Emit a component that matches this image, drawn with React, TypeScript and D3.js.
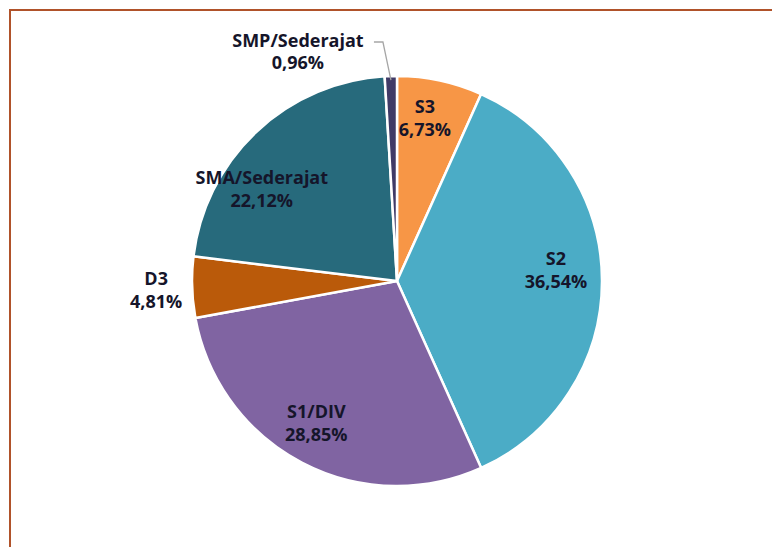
import * as d3 from 'd3';

// Education level share (%) — clockwise from 12 o'clock
const categories = ['S3', 'S2', 'S1/DIV', 'D3', 'SMA/Sederajat', 'SMP/Sederajat'];
const shares = [6.73, 36.54, 28.85, 4.81, 22.12, 0.96];
const labels = ['6,73%', '36,54%', '28,85%', '4,81%', '22,12%', '0,96%'];
const colors = ['#F79646', '#4BACC6', '#8064A2', '#BA5A0A', '#276A7C', '#403A66'];

const W = 772;
const H = 547;
const cx = 397;
const cy = 281;
const R = 205;

// label placement: radius factor and angle nudge (deg) off each slice's mid angle
const labelLayout: Record<string, { k: number; da: number }> = {
  S3: { k: 0.8, da: -2.3 },
  S2: { k: 0.777, da: -3.6 },
  'S1/DIV': { k: 0.8, da: 1.8 },
  D3: { k: 1.176, da: -0.7 },
  'SMA/Sederajat': { k: 0.795, da: -12.8 },
};

const polar = (angle: number, r: number): [number, number] => [
  Math.sin(angle) * r,
  -Math.cos(angle) * r,
];

export default function App() {
  const pie = d3
    .pie<number>()
    .sort(null)
    .value((d) => d);
  const arcs = pie(shares);
  const arc = d3.arc<d3.PieArcDatum<number>>().innerRadius(0).outerRadius(R);

  const font = '"Open Sans", Lato, sans-serif';
  const fontSize = 18;
  const textColor = '#15152a';

  return (
    <div style={{ position: 'fixed', left: 0, top: 0, width: W, height: H, background: '#fff' }}>
      <svg width={W} height={H} style={{ display: 'block' }}>
        <rect x={10} y={10} width={W + 20} height={H + 20} fill="none" stroke="#B0522A" strokeWidth={2} />
        <g transform={`translate(${cx},${cy})`}>
          {arcs.map((a, i) => (
            <path key={categories[i]} d={arc(a) || ''} fill={colors[i]} stroke="#fff" strokeWidth={2.5} strokeLinejoin="round" />
          ))}
          {arcs.map((a, i) => {
            const name = categories[i];
            const mid = (a.startAngle + a.endAngle) / 2;
            if (name === 'SMP/Sederajat') {
              const [sx, sy] = polar(mid, R - 4);
              const ly = 42 - cy;
              const ex = sx - 8;
              const tx = ex - 9;
              return (
                <g key={name} fontFamily={font} fontWeight={700} fontSize={fontSize} fill={textColor} textAnchor="middle">
                  <polyline points={`${sx},${sy} ${ex},${ly} ${tx},${ly}`} fill="none" stroke="#A6A6A6" strokeWidth={1.3} />
                  <text x={tx - 76} y={ly + 5}>{name}</text>
                  <text x={tx - 76} y={ly + 27}>{labels[i]}</text>
                </g>
              );
            }
            const lay = labelLayout[name];
            const [x, y] = polar(mid + (lay.da * Math.PI) / 180, R * lay.k);
            return (
              <g key={name} fontFamily={font} fontWeight={700} fontSize={fontSize} fill={textColor} textAnchor="middle">
                <text x={x} y={y - 6}>{name}</text>
                <text x={x} y={y + 17}>{labels[i]}</text>
              </g>
            );
          })}
        </g>
      </svg>
    </div>
  );
}
